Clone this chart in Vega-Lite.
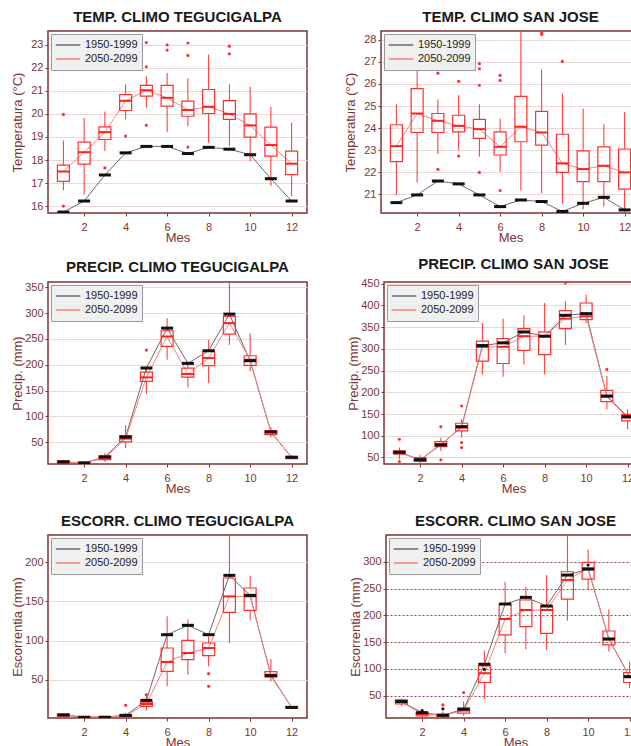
{
 "$schema": "https://vega.github.io/schema/vega-lite/v6.json",
 "padding": {"left": 10, "top": 9, "right": 0, "bottom": 0},
 "background": "white",
 "config": {
  "font": "Liberation Sans",
  "numberFormat": "d",
  "view": {"stroke": "#7b3535", "strokeWidth": 1.5},
  "title": {"font": "Liberation Sans", "fontSize": 15, "fontWeight": "bold", "color": "#1a1a1a", "offset": 6, "anchor": "middle", "frame": "group"},
  "axis": {"labelFont": "Liberation Sans", "labelFontSize": 11, "labelColor": "#7b3535", "titleFont": "Liberation Sans", "titleFontSize": 13, "titleFontWeight": "normal", "titleColor": "#7b3535", "tickColor": "#7b3535", "tickSize": 3, "domain": false, "labelOverlap": false, "tickCount": 30},
  "axisX": {"labelPadding": 5, "titlePadding": -1, "grid": false},
  "axisY": {"minExtent": 24, "maxExtent": 24, "labelPadding": 2, "titlePadding": 0, "grid": true, "gridColor": "#ead8d8", "gridWidth": 1},
  "legend": {"orient": "top-left", "offset": 3, "padding": 4, "fillColor": "#f0f0f0", "strokeColor": "#9a9a9a", "labelFont": "Liberation Sans", "labelFontSize": 11, "labelColor": "#222222", "symbolType": "stroke", "symbolStrokeWidth": 1.5, "symbolSize": 600, "clipHeight": 14, "rowPadding": 0, "labelOffset": 4, "title": null}
 },
 "datasets": {
  "p1": [
   {"m":1,"lo":16.68,"q1":17.07,"md":17.5,"q3":17.78,"hi":18.85,"h":15.74},
   {"m":2,"lo":16.5,"q1":17.82,"md":18.34,"q3":18.78,"hi":19.83,"h":16.22},
   {"m":3,"lo":18.39,"q1":18.89,"md":19.21,"q3":19.44,"hi":20.1,"h":17.35},
   {"m":4,"lo":19.76,"q1":20.15,"md":20.57,"q3":20.84,"hi":21.28,"h":18.31},
   {"m":5,"lo":20.27,"q1":20.77,"md":21.03,"q3":21.24,"hi":21.64,"h":18.59},
   {"m":6,"lo":19.21,"q1":20.34,"md":20.7,"q3":21.24,"hi":21.78,"h":18.59},
   {"m":7,"lo":19.47,"q1":19.9,"md":20.17,"q3":20.56,"hi":21.54,"h":18.28},
   {"m":8,"lo":18.75,"q1":20.02,"md":20.31,"q3":21.06,"hi":22.58,"h":18.55},
   {"m":9,"lo":18.6,"q1":19.76,"md":20.0,"q3":20.58,"hi":21.28,"h":18.47},
   {"m":10,"lo":17.95,"q1":18.99,"md":19.5,"q3":20.0,"hi":21.18,"h":18.23},
   {"m":11,"lo":16.87,"q1":18.17,"md":18.65,"q3":19.43,"hi":20.31,"h":17.19},
   {"m":12,"lo":16.43,"q1":17.37,"md":17.84,"q3":18.39,"hi":19.62,"h":16.22}
  ],
  "o1": [
   {"m":1,"v":19.98},{"m":1,"v":16.0},{"m":3,"v":17.66},{"m":4,"v":19.04},{"m":5,"v":23.1},{"m":5,"v":22.05},{"m":5,"v":19.51},{"m":6,"v":23.0},{"m":6,"v":22.77},{"m":7,"v":23.08},{"m":7,"v":22.54},{"m":7,"v":18.56},{"m":9,"v":22.94},{"m":9,"v":22.61}
  ],
  "p2": [
   {"m":1,"lo":20.97,"q1":22.48,"md":23.18,"q3":24.15,"hi":25.08,"h":20.62},
   {"m":2,"lo":21.53,"q1":23.8,"md":24.66,"q3":25.79,"hi":27.07,"h":20.97},
   {"m":3,"lo":22.82,"q1":23.8,"md":24.33,"q3":24.66,"hi":25.29,"h":21.6},
   {"m":4,"lo":23.0,"q1":23.83,"md":24.1,"q3":24.58,"hi":25.49,"h":21.47},
   {"m":5,"lo":22.7,"q1":23.53,"md":23.95,"q3":24.39,"hi":25.08,"h":20.97},
   {"m":6,"lo":22.02,"q1":22.78,"md":23.15,"q3":23.83,"hi":24.43,"h":20.44},
   {"m":7,"lo":21.17,"q1":23.38,"md":24.06,"q3":25.44,"hi":28.6,"h":20.74},
   {"m":8,"lo":21.05,"q1":23.23,"md":23.8,"q3":24.76,"hi":26.65,"h":20.67},
   {"m":9,"lo":20.56,"q1":21.99,"md":22.4,"q3":23.72,"hi":25.56,"h":20.22},
   {"m":10,"lo":20.32,"q1":21.57,"md":22.14,"q3":22.97,"hi":24.88,"h":20.59},
   {"m":11,"lo":20.44,"q1":21.57,"md":22.29,"q3":23.15,"hi":24.18,"h":20.86},
   {"m":12,"lo":20.2,"q1":21.23,"md":21.99,"q3":23.05,"hi":24.73,"h":20.29}
  ],
  "o2": [
   {"m":1,"v":26.89},{"m":3,"v":26.49},{"m":3,"v":22.13},{"m":4,"v":26.12},{"m":4,"v":22.73},{"m":5,"v":26.92},{"m":5,"v":26.69},{"m":5,"v":25.94},{"m":5,"v":21.99},{"m":6,"v":26.39},{"m":6,"v":26.16},{"m":6,"v":21.17},{"m":8,"v":28.36},{"m":8,"v":28.25},{"m":9,"v":27.02}
  ],
  "p3": [
   {"m":1,"lo":8,"q1":9.4,"md":12,"q3":14.6,"hi":16,"h":12},
   {"m":2,"lo":7,"q1":8.5,"md":10,"q3":11.5,"hi":13,"h":10},
   {"m":3,"lo":12,"q1":16.5,"md":19.7,"q3":23.6,"hi":29.4,"h":21.7},
   {"m":4,"lo":39,"q1":50.6,"md":57,"q3":62.9,"hi":82.8,"h":60.3},
   {"m":5,"lo":143.3,"q1":167.8,"md":175.5,"q3":185.8,"hi":196.8,"h":193.6},
   {"m":6,"lo":209.7,"q1":235.4,"md":254.7,"q3":265.7,"hi":290,"h":270.8},
   {"m":7,"lo":156.2,"q1":176.2,"md":182,"q3":193.6,"hi":206.4,"h":202.6},
   {"m":8,"lo":164.6,"q1":198.1,"md":212.9,"q3":225.7,"hi":248.3,"h":227},
   {"m":9,"lo":238.6,"q1":259.2,"md":280.5,"q3":293.4,"hi":365,"h":297.9},
   {"m":10,"lo":187.1,"q1":198.7,"md":209.7,"q3":217.4,"hi":261,"h":207.7},
   {"m":11,"lo":59.6,"q1":64.8,"md":69.3,"q3":72.5,"hi":79.6,"h":70},
   {"m":12,"lo":17,"q1":18.4,"md":21,"q3":23,"hi":25,"h":21}
  ],
  "o3": [{"m":5,"v":228.3}],
  "p4": [
   {"m":1,"lo":46,"q1":57.6,"md":61,"q3":65.5,"hi":73,"h":62},
   {"m":2,"lo":36,"q1":40.8,"md":44.6,"q3":50,"hi":56,"h":45},
   {"m":3,"lo":65.3,"q1":75.2,"md":80.6,"q3":86.7,"hi":95.9,"h":79},
   {"m":4,"lo":95.9,"q1":111.2,"md":118.8,"q3":128.8,"hi":138,"h":121},
   {"m":5,"lo":241.2,"q1":271.8,"md":304.7,"q3":317.7,"hi":359.8,"h":307.7},
   {"m":6,"lo":235.8,"q1":266.4,"md":304.7,"q3":323.8,"hi":369.7,"h":313.9},
   {"m":7,"lo":264.1,"q1":296.3,"md":329.2,"q3":346.7,"hi":377.3,"h":339},
   {"m":8,"lo":241.2,"q1":287,"md":329.2,"q3":339,"hi":405.6,"h":329.2},
   {"m":9,"lo":308.5,"q1":346.7,"md":369.7,"q3":388,"hi":409.5,"h":377.3},
   {"m":10,"lo":359.8,"q1":367.4,"md":375,"q3":405.6,"hi":424.8,"h":381.2},
   {"m":11,"lo":160.9,"q1":178.5,"md":190,"q3":204.5,"hi":237.4,"h":191.5},
   {"m":12,"lo":115,"q1":134.1,"md":141.8,"q3":149.4,"hi":160.9,"h":144}
  ],
  "o4": [
   {"m":1,"v":92},{"m":1,"v":40.8},{"m":3,"v":121},{"m":3,"v":44.6},{"m":4,"v":168.6},{"m":4,"v":84.4},{"m":4,"v":72.9},{"m":9,"v":452},{"m":11,"v":252.7}
  ],
  "p5": [
   {"m":1,"lo":2.5,"q1":3,"md":4.8,"q3":6,"hi":7,"h":5},
   {"m":2,"lo":1.5,"q1":1.8,"md":2.3,"q3":2.8,"hi":3.2,"h":2},
   {"m":3,"lo":1.5,"q1":1.8,"md":2.3,"q3":2.8,"hi":3.5,"h":2},
   {"m":4,"lo":2,"q1":3.1,"md":4,"q3":5.3,"hi":7.4,"h":4.4},
   {"m":5,"lo":10.8,"q1":15.9,"md":18.9,"q3":21.4,"hi":28.7,"h":23.6},
   {"m":6,"lo":41.5,"q1":60.7,"md":72.6,"q3":90.5,"hi":131,"h":107.5},
   {"m":7,"lo":56.4,"q1":75.6,"md":84.1,"q3":100.3,"hi":126.7,"h":119.5},
   {"m":8,"lo":67,"q1":80.7,"md":90.5,"q3":96.9,"hi":105.4,"h":107.5},
   {"m":9,"lo":96.9,"q1":136.1,"md":156.5,"q3":180,"hi":240,"h":183.4},
   {"m":10,"lo":125.9,"q1":138.6,"md":156.5,"q3":167.2,"hi":183,"h":157.8},
   {"m":11,"lo":47.9,"q1":53.4,"md":56.4,"q3":60.2,"hi":76.4,"h":55.1},
   {"m":12,"lo":12.5,"q1":13.5,"md":14.6,"q3":15.5,"hi":16.5,"h":14.6}
  ],
  "o5": [
   {"m":4,"v":17.2},{"m":5,"v":30.8},{"m":8,"v":57.7},{"m":8,"v":41.5}
  ],
  "p6": [
   {"m":1,"lo":30.7,"q1":34.4,"md":38.2,"q3":41.9,"hi":44.4,"h":38.8},
   {"m":2,"lo":7.7,"q1":12.1,"md":15.2,"q3":18.3,"hi":23.3,"h":18},
   {"m":3,"lo":6,"q1":10.8,"md":12.7,"q3":15.2,"hi":20,"h":13},
   {"m":4,"lo":12,"q1":17,"md":22,"q3":26.4,"hi":38.8,"h":24.5},
   {"m":5,"lo":43.2,"q1":74.3,"md":91.7,"q3":105.3,"hi":134,"h":108.5},
   {"m":6,"lo":129,"q1":163.2,"md":193,"q3":221,"hi":262.7,"h":221},
   {"m":7,"lo":136.4,"q1":178.7,"md":209.8,"q3":228.5,"hi":253.4,"h":233.5},
   {"m":8,"lo":135.2,"q1":166.3,"md":209.8,"q3":217.3,"hi":275.1,"h":217.3},
   {"m":9,"lo":189.9,"q1":230.3,"md":265.8,"q3":281.3,"hi":355,"h":275.1},
   {"m":10,"lo":247,"q1":267.7,"md":287.6,"q3":298.8,"hi":323,"h":286.3},
   {"m":11,"lo":132,"q1":144.5,"md":155.1,"q3":170.6,"hi":211,"h":155.7},
   {"m":12,"lo":63.7,"q1":74.3,"md":84.2,"q3":92.9,"hi":113,"h":85.4}
  ],
  "o6": [
   {"m":3,"v":32.6},{"m":4,"v":55.6}
  ],
  "k6": [
   {"m":2,"v":22},{"m":3,"v":25.1},{"m":5,"v":99},{"m":10,"v":293.8}
  ]
 },
 "resolve": {"scale": {"color": "independent"}, "legend": {"color": "independent"}},
 "spacing": 10,
 "vconcat": [
  {
   "spacing": 35,
   "resolve": {"scale": {"color": "independent"}, "legend": {"color": "independent"}},
   "hconcat": [
    {
     "width": 259, "height": 182,
     "title": "TEMP. CLIMO TEGUCIGALPA",
     "data": {"name": "p1"},
     "layer": [
      {"mark": {"type": "rule", "color": "#ff3030", "clip": true},
       "encoding": {
        "x": {"field": "m", "type": "quantitative", "scale": {"domain": [0.5, 12.5], "nice": false, "zero": false}, "axis": {"values": [2,4,6,8,10,12], "format": "d", "title": "Mes"}},
        "y": {"field": "lo", "type": "quantitative", "scale": {"domain": [15.7, 23.6], "nice": false, "zero": false}, "axis": {"values": [16,17,18,19,20,21,22,23], "format": "d", "title": "Temperatura (°C)"}},
        "y2": {"field": "q1"}}},
      {"mark": {"type": "rule", "color": "#ff3030", "clip": true},
       "encoding": {"x": {"field": "m", "type": "quantitative"}, "y": {"field": "q3", "type": "quantitative"}, "y2": {"field": "hi"}}},
      {"mark": {"type": "line", "strokeWidth": 1, "clip": true},
       "encoding": {"x": {"field": "m", "type": "quantitative"}, "y": {"field": "h", "type": "quantitative"},
        "color": {"datum": "1950-1999", "type": "nominal", "scale": {"domain": ["1950-1999", "2050-2099"], "range": ["#6a6a6a", "#ff8080"]}}}},
      {"mark": {"type": "line", "strokeWidth": 1, "clip": true},
       "encoding": {"x": {"field": "m", "type": "quantitative"}, "y": {"field": "md", "type": "quantitative"},
        "color": {"datum": "2050-2099", "type": "nominal"}}},
      {"mark": {"type": "bar", "size": 12, "fill": "white", "fillOpacity": 0, "stroke": "#ff3030", "strokeWidth": 1.2, "clip": true},
       "encoding": {"x": {"field": "m", "type": "quantitative"}, "y": {"field": "q1", "type": "quantitative"}, "y2": {"field": "q3"}}},
      {"mark": {"type": "tick", "orient": "horizontal", "color": "#ff2020", "size": 12, "thickness": 2, "opacity": 1, "clip": true},
       "encoding": {"x": {"field": "m", "type": "quantitative"}, "y": {"field": "md", "type": "quantitative"}}},
      {"mark": {"type": "tick", "orient": "horizontal", "color": "#111111", "size": 12, "thickness": 3, "opacity": 1, "clip": true},
       "encoding": {"x": {"field": "m", "type": "quantitative"}, "y": {"field": "h", "type": "quantitative"}}},
      {"data": {"name": "o1"}, "mark": {"type": "circle", "color": "#ff3030", "size": 10, "opacity": 1, "clip": true},
       "encoding": {"x": {"field": "m", "type": "quantitative"}, "y": {"field": "v", "type": "quantitative"}}}
     ]
    },
    {
     "width": 259, "height": 182,
     "title": "TEMP. CLIMO SAN JOSE",
     "data": {"name": "p2"},
     "layer": [
      {"mark": {"type": "rule", "color": "#ff3030", "clip": true},
       "encoding": {
        "x": {"field": "m", "type": "quantitative", "scale": {"domain": [0.5, 12.5], "nice": false, "zero": false}, "axis": {"values": [2,4,6,8,10,12], "format": "d", "title": "Mes"}},
        "y": {"field": "lo", "type": "quantitative", "scale": {"domain": [20.15, 28.4], "nice": false, "zero": false}, "axis": {"values": [21,22,23,24,25,26,27,28], "format": "d", "title": "Temperatura (°C)"}},
        "y2": {"field": "q1"}}},
      {"mark": {"type": "rule", "color": "#ff3030", "clip": true},
       "encoding": {"x": {"field": "m", "type": "quantitative"}, "y": {"field": "q3", "type": "quantitative"}, "y2": {"field": "hi"}}},
      {"mark": {"type": "line", "strokeWidth": 1, "clip": true},
       "encoding": {"x": {"field": "m", "type": "quantitative"}, "y": {"field": "h", "type": "quantitative"},
        "color": {"datum": "1950-1999", "type": "nominal", "scale": {"domain": ["1950-1999", "2050-2099"], "range": ["#6a6a6a", "#ff8080"]}}}},
      {"mark": {"type": "line", "strokeWidth": 1, "clip": true},
       "encoding": {"x": {"field": "m", "type": "quantitative"}, "y": {"field": "md", "type": "quantitative"},
        "color": {"datum": "2050-2099", "type": "nominal"}}},
      {"mark": {"type": "bar", "size": 12, "fill": "white", "fillOpacity": 0, "stroke": "#ff3030", "strokeWidth": 1.2, "clip": true},
       "encoding": {"x": {"field": "m", "type": "quantitative"}, "y": {"field": "q1", "type": "quantitative"}, "y2": {"field": "q3"}}},
      {"mark": {"type": "tick", "orient": "horizontal", "color": "#ff2020", "size": 12, "thickness": 2, "opacity": 1, "clip": true},
       "encoding": {"x": {"field": "m", "type": "quantitative"}, "y": {"field": "md", "type": "quantitative"}}},
      {"mark": {"type": "tick", "orient": "horizontal", "color": "#111111", "size": 12, "thickness": 3, "opacity": 1, "clip": true},
       "encoding": {"x": {"field": "m", "type": "quantitative"}, "y": {"field": "h", "type": "quantitative"}}},
      {"data": {"name": "o2"}, "mark": {"type": "circle", "color": "#ff3030", "size": 10, "opacity": 1, "clip": true},
       "encoding": {"x": {"field": "m", "type": "quantitative"}, "y": {"field": "v", "type": "quantitative"}}}
     ]
    }
   ]
  },
  {
   "spacing": 17,
   "resolve": {"scale": {"color": "independent"}, "legend": {"color": "independent"}},
   "vconcat": [
    {
     "spacing": 38,
     "resolve": {"scale": {"color": "independent"}, "legend": {"color": "independent"}},
     "hconcat": [
      {
       "width": 259, "height": 182,
       "title": "PRECIP. CLIMO TEGUCIGALPA",
       "data": {"name": "p3"},
       "layer": [
        {"mark": {"type": "rule", "color": "#ff3030", "clip": true},
         "encoding": {
          "x": {"field": "m", "type": "quantitative", "scale": {"domain": [0.5, 12.5], "nice": false, "zero": false}, "axis": {"values": [2,4,6,8,10,12], "format": "d", "title": "Mes"}},
          "y": {"field": "lo", "type": "quantitative", "scale": {"domain": [8, 360], "nice": false, "zero": false}, "axis": {"values": [50,100,150,200,250,300,350], "format": "d", "title": "Precip. (mm)"}},
          "y2": {"field": "q1"}}},
        {"mark": {"type": "rule", "color": "#ff3030", "clip": true},
         "encoding": {"x": {"field": "m", "type": "quantitative"}, "y": {"field": "q3", "type": "quantitative"}, "y2": {"field": "hi"}}},
        {"mark": {"type": "line", "strokeWidth": 1, "clip": true},
         "encoding": {"x": {"field": "m", "type": "quantitative"}, "y": {"field": "h", "type": "quantitative"},
          "color": {"datum": "1950-1999", "type": "nominal", "scale": {"domain": ["1950-1999", "2050-2099"], "range": ["#6a6a6a", "#ff8080"]}}}},
        {"mark": {"type": "line", "strokeWidth": 1, "clip": true},
         "encoding": {"x": {"field": "m", "type": "quantitative"}, "y": {"field": "md", "type": "quantitative"},
          "color": {"datum": "2050-2099", "type": "nominal"}}},
        {"mark": {"type": "bar", "size": 12, "fill": "white", "fillOpacity": 0, "stroke": "#ff3030", "strokeWidth": 1.2, "clip": true},
         "encoding": {"x": {"field": "m", "type": "quantitative"}, "y": {"field": "q1", "type": "quantitative"}, "y2": {"field": "q3"}}},
        {"mark": {"type": "tick", "orient": "horizontal", "color": "#ff2020", "size": 12, "thickness": 2, "opacity": 1, "clip": true},
         "encoding": {"x": {"field": "m", "type": "quantitative"}, "y": {"field": "md", "type": "quantitative"}}},
        {"mark": {"type": "tick", "orient": "horizontal", "color": "#111111", "size": 12, "thickness": 3, "opacity": 1, "clip": true},
         "encoding": {"x": {"field": "m", "type": "quantitative"}, "y": {"field": "h", "type": "quantitative"}}},
        {"data": {"name": "o3"}, "mark": {"type": "circle", "color": "#ff3030", "size": 10, "opacity": 1, "clip": true},
         "encoding": {"x": {"field": "m", "type": "quantitative"}, "y": {"field": "v", "type": "quantitative"}}}
       ]
      },
      {
       "width": 259, "height": 182,
       "title": "PRECIP. CLIMO SAN JOSE",
       "data": {"name": "p4"},
       "layer": [
        {"mark": {"type": "rule", "color": "#ff3030", "clip": true},
         "encoding": {
          "x": {"field": "m", "type": "quantitative", "scale": {"domain": [0.5, 12.5], "nice": false, "zero": false}, "axis": {"values": [2,4,6,8,10,12], "format": "d", "title": "Mes"}},
          "y": {"field": "lo", "type": "quantitative", "scale": {"domain": [35, 454], "nice": false, "zero": false}, "axis": {"values": [50,100,150,200,250,300,350,400,450], "format": "d", "title": "Precip. (mm)"}},
          "y2": {"field": "q1"}}},
        {"mark": {"type": "rule", "color": "#ff3030", "clip": true},
         "encoding": {"x": {"field": "m", "type": "quantitative"}, "y": {"field": "q3", "type": "quantitative"}, "y2": {"field": "hi"}}},
        {"mark": {"type": "line", "strokeWidth": 1, "clip": true},
         "encoding": {"x": {"field": "m", "type": "quantitative"}, "y": {"field": "h", "type": "quantitative"},
          "color": {"datum": "1950-1999", "type": "nominal", "scale": {"domain": ["1950-1999", "2050-2099"], "range": ["#6a6a6a", "#ff8080"]}}}},
        {"mark": {"type": "line", "strokeWidth": 1, "clip": true},
         "encoding": {"x": {"field": "m", "type": "quantitative"}, "y": {"field": "md", "type": "quantitative"},
          "color": {"datum": "2050-2099", "type": "nominal"}}},
        {"mark": {"type": "bar", "size": 12, "fill": "white", "fillOpacity": 0, "stroke": "#ff3030", "strokeWidth": 1.2, "clip": true},
         "encoding": {"x": {"field": "m", "type": "quantitative"}, "y": {"field": "q1", "type": "quantitative"}, "y2": {"field": "q3"}}},
        {"mark": {"type": "tick", "orient": "horizontal", "color": "#ff2020", "size": 12, "thickness": 2, "opacity": 1, "clip": true},
         "encoding": {"x": {"field": "m", "type": "quantitative"}, "y": {"field": "md", "type": "quantitative"}}},
        {"mark": {"type": "tick", "orient": "horizontal", "color": "#111111", "size": 12, "thickness": 3, "opacity": 1, "clip": true},
         "encoding": {"x": {"field": "m", "type": "quantitative"}, "y": {"field": "h", "type": "quantitative"}}},
        {"data": {"name": "o4"}, "mark": {"type": "circle", "color": "#ff3030", "size": 10, "opacity": 1, "clip": true},
         "encoding": {"x": {"field": "m", "type": "quantitative"}, "y": {"field": "v", "type": "quantitative"}}}
       ]
      }
     ]
    },
    {
     "spacing": 40,
     "resolve": {"scale": {"color": "independent"}, "legend": {"color": "independent"}},
     "hconcat": [
      {
       "width": 259, "height": 183,
       "title": "ESCORR. CLIMO TEGUCIGALPA",
       "data": {"name": "p5"},
       "layer": [
        {"mark": {"type": "rule", "color": "#ff3030", "clip": true},
         "encoding": {
          "x": {"field": "m", "type": "quantitative", "scale": {"domain": [0.5, 12.5], "nice": false, "zero": false}, "axis": {"values": [2,4,6,8,10,12], "format": "d", "title": "Mes"}},
          "y": {"field": "lo", "type": "quantitative", "scale": {"domain": [1, 235], "nice": false, "zero": false}, "axis": {"values": [50,100,150,200], "format": "d", "title": "Escorrentia (mm)"}},
          "y2": {"field": "q1"}}},
        {"mark": {"type": "rule", "color": "#ff3030", "clip": true},
         "encoding": {"x": {"field": "m", "type": "quantitative"}, "y": {"field": "q3", "type": "quantitative"}, "y2": {"field": "hi"}}},
        {"mark": {"type": "line", "strokeWidth": 1, "clip": true},
         "encoding": {"x": {"field": "m", "type": "quantitative"}, "y": {"field": "h", "type": "quantitative"},
          "color": {"datum": "1950-1999", "type": "nominal", "scale": {"domain": ["1950-1999", "2050-2099"], "range": ["#6a6a6a", "#ff8080"]}}}},
        {"mark": {"type": "line", "strokeWidth": 1, "clip": true},
         "encoding": {"x": {"field": "m", "type": "quantitative"}, "y": {"field": "md", "type": "quantitative"},
          "color": {"datum": "2050-2099", "type": "nominal"}}},
        {"mark": {"type": "bar", "size": 12, "fill": "white", "fillOpacity": 0, "stroke": "#ff3030", "strokeWidth": 1.2, "clip": true},
         "encoding": {"x": {"field": "m", "type": "quantitative"}, "y": {"field": "q1", "type": "quantitative"}, "y2": {"field": "q3"}}},
        {"mark": {"type": "tick", "orient": "horizontal", "color": "#ff2020", "size": 12, "thickness": 2, "opacity": 1, "clip": true},
         "encoding": {"x": {"field": "m", "type": "quantitative"}, "y": {"field": "md", "type": "quantitative"}}},
        {"mark": {"type": "tick", "orient": "horizontal", "color": "#111111", "size": 12, "thickness": 3, "opacity": 1, "clip": true},
         "encoding": {"x": {"field": "m", "type": "quantitative"}, "y": {"field": "h", "type": "quantitative"}}},
        {"data": {"name": "o5"}, "mark": {"type": "circle", "color": "#ff3030", "size": 10, "opacity": 1, "clip": true},
         "encoding": {"x": {"field": "m", "type": "quantitative"}, "y": {"field": "v", "type": "quantitative"}}}
       ]
      },
      {
       "width": 259, "height": 183,
       "title": "ESCORR. CLIMO SAN JOSE",
       "data": {"name": "p6"},
       "layer": [
        {"mark": {"type": "rule", "color": "#ff3030", "clip": true},
         "encoding": {
          "x": {"field": "m", "type": "quantitative", "scale": {"domain": [0.5, 12.5], "nice": false, "zero": false}, "axis": {"values": [2,4,6,8,10,12], "format": "d", "title": "Mes"}},
          "y": {"field": "lo", "type": "quantitative", "scale": {"domain": [8, 350], "nice": false, "zero": false}, "axis": {"values": [50,100,150,200,250,300], "format": "d", "title": "Escorrentia (mm)", "gridColor": "#8b4a4a", "gridDash": [2, 2]}},
          "y2": {"field": "q1"}}},
        {"mark": {"type": "rule", "color": "#ff3030", "clip": true},
         "encoding": {"x": {"field": "m", "type": "quantitative"}, "y": {"field": "q3", "type": "quantitative"}, "y2": {"field": "hi"}}},
        {"mark": {"type": "line", "strokeWidth": 1, "clip": true},
         "encoding": {"x": {"field": "m", "type": "quantitative"}, "y": {"field": "h", "type": "quantitative"},
          "color": {"datum": "1950-1999", "type": "nominal", "scale": {"domain": ["1950-1999", "2050-2099"], "range": ["#6a6a6a", "#ff8080"]}}}},
        {"mark": {"type": "line", "strokeWidth": 1, "clip": true},
         "encoding": {"x": {"field": "m", "type": "quantitative"}, "y": {"field": "md", "type": "quantitative"},
          "color": {"datum": "2050-2099", "type": "nominal"}}},
        {"mark": {"type": "bar", "size": 12, "fill": "white", "fillOpacity": 0, "stroke": "#ff3030", "strokeWidth": 1.2, "clip": true},
         "encoding": {"x": {"field": "m", "type": "quantitative"}, "y": {"field": "q1", "type": "quantitative"}, "y2": {"field": "q3"}}},
        {"mark": {"type": "tick", "orient": "horizontal", "color": "#ff2020", "size": 12, "thickness": 2, "opacity": 1, "clip": true},
         "encoding": {"x": {"field": "m", "type": "quantitative"}, "y": {"field": "md", "type": "quantitative"}}},
        {"mark": {"type": "tick", "orient": "horizontal", "color": "#111111", "size": 12, "thickness": 3, "opacity": 1, "clip": true},
         "encoding": {"x": {"field": "m", "type": "quantitative"}, "y": {"field": "h", "type": "quantitative"}}},
        {"data": {"name": "o6"}, "mark": {"type": "circle", "color": "#ff3030", "size": 10, "opacity": 1, "clip": true},
         "encoding": {"x": {"field": "m", "type": "quantitative"}, "y": {"field": "v", "type": "quantitative"}}},
        {"data": {"name": "k6"}, "mark": {"type": "circle", "color": "#111111", "size": 10, "opacity": 1, "clip": true},
         "encoding": {"x": {"field": "m", "type": "quantitative"}, "y": {"field": "v", "type": "quantitative"}}}
       ]
      }
     ]
    }
   ]
  }
 ]
}
